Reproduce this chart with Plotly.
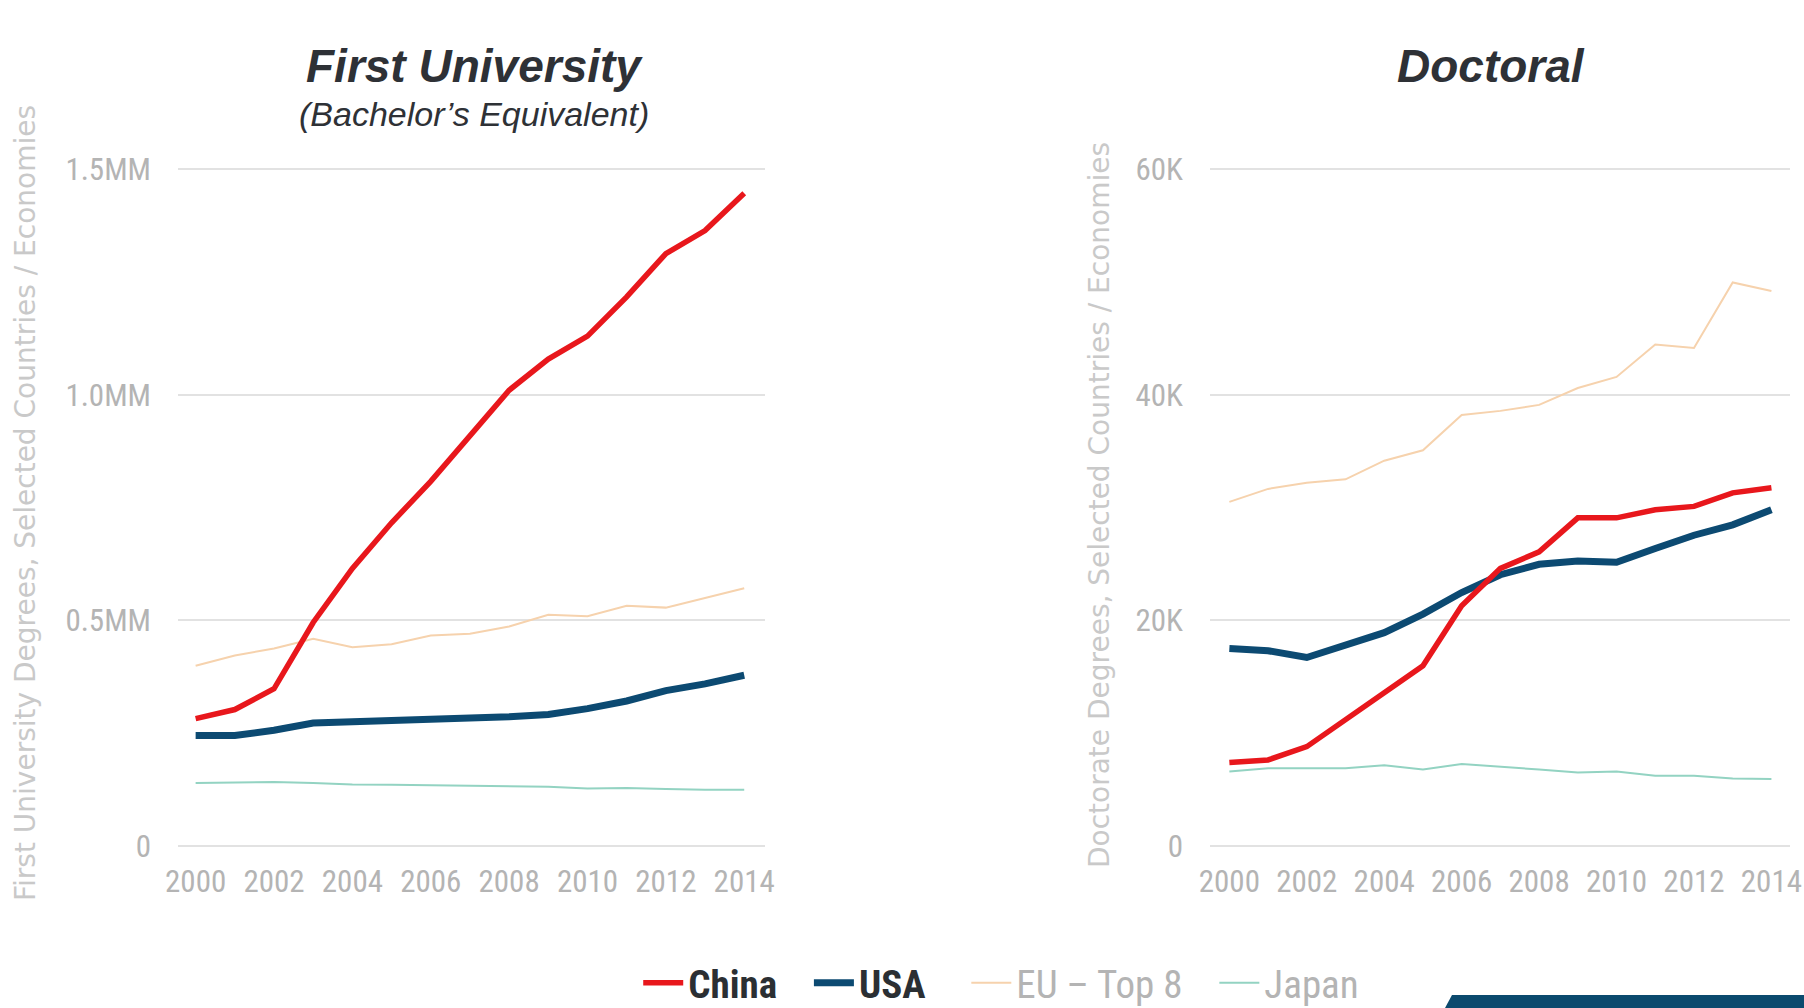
import plotly.graph_objects as go

years = list(range(2000, 2015))

# First University degrees (millions)
bach_china = [0.282, 0.302, 0.348, 0.495, 0.615, 0.716, 0.808, 0.909, 1.01, 1.079, 1.13, 1.217, 1.313, 1.364, 1.447]
bach_usa = [0.2445, 0.2445, 0.256, 0.272, 0.275, 0.277, 0.279, 0.282, 0.286, 0.291, 0.304, 0.321, 0.344, 0.359, 0.378]
bach_eu = [0.399, 0.422, 0.4375, 0.459, 0.44, 0.447, 0.466, 0.47, 0.486, 0.512, 0.509, 0.532, 0.528, 0.549, 0.571]
bach_japan = [0.139, 0.141, 0.1415, 0.139, 0.136, 0.135, 0.134, 0.133, 0.132, 0.131, 0.127, 0.128, 0.126, 0.124, 0.124]

# Doctoral degrees (thousands)
doc_china = [7.39, 7.61, 8.79, 11.18, 13.57, 15.96, 21.29, 24.6, 26.07, 29.08, 29.08, 29.8, 30.1, 31.3, 31.76]
doc_usa = [17.5, 17.3, 16.7, 17.8, 18.9, 20.55, 22.46, 24.04, 24.96, 25.26, 25.15, 26.36, 27.54, 28.46, 29.8]
doc_eu = [30.5, 31.65, 32.2, 32.5, 34.15, 35.07, 38.2, 38.57, 39.1, 40.6, 41.58, 44.45, 44.15, 49.96, 49.2]
doc_japan = [6.58, 6.875, 6.875, 6.875, 7.13, 6.76, 7.24, 7.02, 6.76, 6.5, 6.58, 6.21, 6.21, 5.96, 5.92]

x_ticks = [2000, 2002, 2004, 2006, 2008, 2010, 2012, 2014]
left_tickvals = [0, 0.5, 1.0, 1.5]
left_ticktext = ["0", "0.5MM", "1.0MM", "1.5MM"]
right_tickvals = [0, 20, 40, 60]
right_ticktext = ["0", "20K", "40K", "60K"]

pad = "\u00a0\u00a0\u00a0"
series_names = ["<span style='color:#2b2f33'><b>China</b></span>" + pad,
                "<span style='color:#2b2f33'><b>USA</b></span>" + pad + "\u00a0",
                "EU – Top 8" + pad,
                "Japan"]
colors = ["#e8171c", "#0c4a72", "#f6d2ad", "#93d3c2"]
widths = [5.5, 7, 2, 2]

fig = go.Figure()

left_data = [bach_china, bach_usa, bach_eu, bach_japan]
right_data = [doc_china, doc_usa, doc_eu, doc_japan]
order = [2, 3, 1, 0]  # draw thin lines first
for i in order:
    fig.add_trace(go.Scatter(x=years, y=left_data[i], mode="lines", name=series_names[i],
                             line=dict(color=colors[i], width=widths[i]),
                             xaxis="x", yaxis="y", showlegend=False, legendrank=i))
for i in order:
    fig.add_trace(go.Scatter(x=years, y=right_data[i], mode="lines", name=series_names[i],
                             line=dict(color=colors[i], width=widths[i]),
                             xaxis="x2", yaxis="y2", showlegend=True, legendrank=i))

narrow = "Liberation Sans Narrow, Roboto Condensed, Liberation Sans, Arial"
tick_font = dict(family=narrow, size=31, color="#b4b4b4")
grid_col = "#e2e2e2"

common_x = dict(tickvals=x_ticks, showgrid=False, zeroline=False, showline=False,
                tickfont=tick_font, ticks="", ticklabelstandoff=12)
common_y = dict(showgrid=True, gridcolor=grid_col, gridwidth=2, zeroline=False, showline=False,
                tickfont=tick_font, ticks="", ticklabelstandoff=26)

fig.update_layout(
    width=1804, height=1008,
    margin=dict(l=0, r=0, t=0, b=0, autoexpand=False),
    paper_bgcolor="white", plot_bgcolor="white",
    xaxis=dict(domain=[178/1804, 765/1804], range=[1999.55, 2014.53], anchor="y", **common_x),
    yaxis=dict(domain=[1-848/1008, 1-167/1008], range=[-0.005, 1.505], anchor="x",
               tickvals=left_tickvals, ticktext=left_ticktext, **common_y),
    xaxis2=dict(domain=[1210/1804, 1790/1804], range=[1999.5, 2014.48], anchor="y2", **common_x),
    yaxis2=dict(domain=[1-848/1008, 1-167/1008], range=[-0.2, 60.2], anchor="x2",
                tickvals=right_tickvals, ticktext=right_ticktext, **common_y),
    showlegend=True,
    legend=dict(orientation="h", x=0.555, xanchor="center", y=1-983/1008, yanchor="middle",
                font=dict(family=narrow, size=39, color="#b4b4b4"),
                itemwidth=40, traceorder="normal", bgcolor="rgba(0,0,0,0)"),
)

title_font = "Liberation Sans, Arial"
fig.add_annotation(text="<b><i>First University</i></b>", x=474/1804, y=1-66/1008,
                   xref="paper", yref="paper", showarrow=False, xanchor="center", yanchor="middle",
                   font=dict(family=title_font, size=46, color="#2e3136"))
fig.add_annotation(text="<i>(Bachelor’s Equivalent)</i>", x=474/1804, y=1-114/1008,
                   xref="paper", yref="paper", showarrow=False, xanchor="center", yanchor="middle",
                   font=dict(family=title_font, size=34, color="#2e3136"))
fig.add_annotation(text="<b><i>Doctoral</i></b>", x=1491/1804, y=1-66/1008,
                   xref="paper", yref="paper", showarrow=False, xanchor="center", yanchor="middle",
                   font=dict(family=title_font, size=46, color="#2e3136"))

ytitle_font = dict(family="DejaVu Sans, Open Sans", size=28, color="#c9c9c9")
fig.add_annotation(text="First University Degrees, Selected Countries / Economies",
                   x=25/1804, y=1-503/1008, xref="paper", yref="paper", showarrow=False,
                   textangle=-90, yanchor="middle", xanchor="center", font=ytitle_font)
fig.add_annotation(text="Doctorate Degrees, Selected Countries / Economies",
                   x=1099/1804, y=1-505/1008, xref="paper", yref="paper", showarrow=False,
                   textangle=-90, yanchor="middle", xanchor="center", font=ytitle_font)

# decorative banner at bottom right
fig.add_shape(type="path", xref="paper", yref="paper",
              path=f"M {1452/1804},{1-995/1008} L 1.0,{1-995/1008} L 1.0,0 L {1445/1804},0 Z",
              fillcolor="#0b4a6e", line=dict(width=0))

fig.write_html("out.html", config={"displayModeBar": False},
               post_script="document.body.style.margin='0';document.body.style.overflow='hidden';")
